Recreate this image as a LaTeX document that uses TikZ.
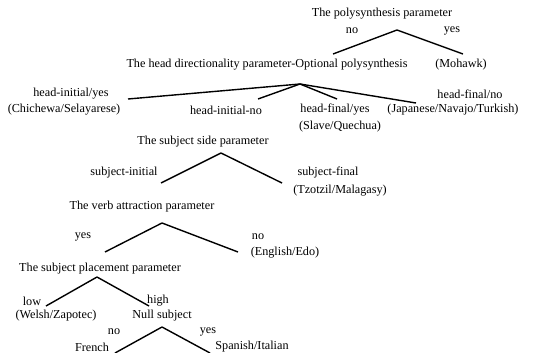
\documentclass[tikz,border=0pt]{standalone}
\usepackage{fontspec}
\setmainfont{Liberation Serif}
\tikzset{
	lbl/.style={inner sep=0pt, font=\fontsize{12.2}{14}\selectfont},
	branch/.style={line width=1.4pt}
}
\begin{document}
\begin{tikzpicture}[x=1pt,y=-1pt]
\useasboundingbox (0,0) rectangle (551,353);
% polysynthesis
\node[lbl] (poly) at (382,14) {The polysynthesis parameter};
\node[lbl] (polyno) at (352,31) {no};
\node[lbl] (polyyes) at (452,31) {yes};
\node[lbl] (headdir) at (267,65) {The head directionality parameter-Optional polysynthesis};
\node[lbl] (mohawk) at (461,65) {(Mohawk)};
\coordinate (polytop) at (397,30);
\coordinate (polyl) at (333,54);
\coordinate (polyr) at (463,54);
% head directionality
\node[lbl] (hiyes) at (71,94) {head-initial/yes};
\node[lbl] (chichewa) at (64,110) {(Chichewa/Selayarese)};
\node[lbl] (hino) at (226,110) {head-initial-no};
\node[lbl] (hfyes) at (335,110) {head-final/yes};
\node[lbl] (slave) at (340,127) {(Slave/Quechua)};
\node[lbl] (hfno) at (470,94) {head-final/no};
\node[lbl] (japanese) at (453,110) {(Japanese/Navajo/Turkish)};
\coordinate (headtop) at (300,84);
\coordinate (head1) at (128,99);
\coordinate (head2) at (258,99);
\coordinate (head3) at (337,99);
\coordinate (head4) at (416,103);
% subject side
\node[lbl] (subside) at (203,142) {The subject side parameter};
\node[lbl] (subinit) at (124,173) {subject-initial};
\node[lbl] (subfin) at (328,173) {subject-final};
\node[lbl] (tzotzil) at (340,191) {(Tzotzil/Malagasy)};
\coordinate (sidetop) at (221,153);
\coordinate (sidel) at (161,183);
\coordinate (sider) at (282,183);
% verb attraction
\node[lbl] (verbattr) at (142,207) {The verb attraction parameter};
\node[lbl] (verbyes) at (83,237) {yes};
\node[lbl] (verbno) at (258,237) {no};
\node[lbl] (english) at (285,253) {(English/Edo)};
\coordinate (verbtop) at (162,223);
\coordinate (verbl) at (105,252);
\coordinate (verbr) at (238,252);
% subject placement
\node[lbl] (subplace) at (100,269) {The subject placement parameter};
\node[lbl] (low) at (32,301) {low};
\node[lbl] (high) at (158,301) {high};
\node[lbl] (welsh) at (56,316) {(Welsh/Zapotec)};
\node[lbl] (nullsub) at (162,316) {Null subject};
\coordinate (placetop) at (97,277);
\coordinate (placel) at (46,306);
\coordinate (placer) at (149,306);
% null subject
\node[lbl] (nullno) at (114,332) {no};
\node[lbl] (nullyes) at (208,332) {yes};
\node[lbl] (french) at (92,347) {French};
\node[lbl] (spanish) at (252,347) {Spanish/Italian};
\coordinate (nulltop) at (162,327);
\coordinate (nulll) at (115,353);
\coordinate (nullr) at (210,353);
\path[branch]
(polytop) edge (polyl)
edge (polyr)
(headtop) edge (head1)
edge (head2)
edge (head3)
edge (head4)
(sidetop) edge (sidel)
edge (sider)
(verbtop) edge (verbl)
edge (verbr)
(placetop) edge (placel)
edge (placer)
(nulltop) edge (nulll)
edge (nullr)
;
\end{tikzpicture}
\end{document}
